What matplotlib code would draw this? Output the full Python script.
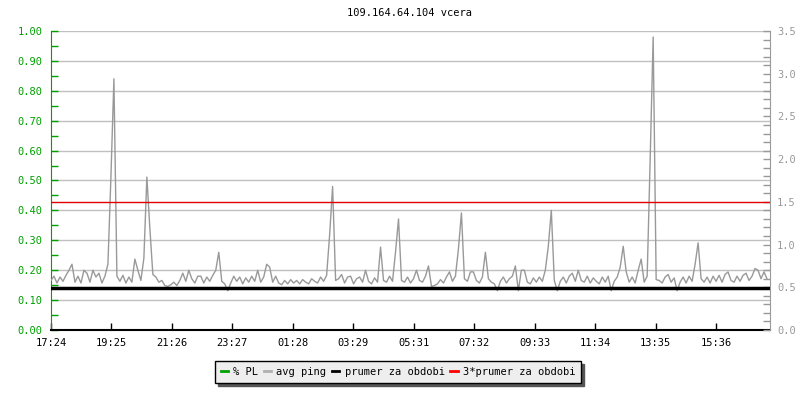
import matplotlib
matplotlib.use("Agg")
import matplotlib.pyplot as plt
from matplotlib.ticker import MultipleLocator, FormatStrFormatter
from matplotlib.lines import Line2D

plt.rcParams['font.family'] = ['DejaVu Sans Mono']

title = "109.164.64.104 vcera"
step_min = 6  # minutes between samples
avg_ping = [
    0.58, 0.63, 0.55, 0.62, 0.57, 0.64, 0.70, 0.77, 0.56, 0.63,
    0.55, 0.70, 0.665, 0.56, 0.70, 0.62, 0.665, 0.55, 0.63, 0.77,
    1.79, 2.94, 0.63, 0.57, 0.64, 0.55, 0.62, 0.56, 0.83, 0.70,
    0.58, 0.84, 1.79, 1.19, 0.65, 0.62, 0.56, 0.58, 0.52, 0.51,
    0.53, 0.56, 0.52, 0.58, 0.665, 0.57, 0.70, 0.60, 0.55, 0.63,
    0.63, 0.55, 0.62, 0.57, 0.64, 0.70, 0.91, 0.57, 0.54, 0.46,
    0.55, 0.63, 0.57, 0.62, 0.54, 0.61, 0.56, 0.63, 0.57, 0.70,
    0.56, 0.62, 0.77, 0.735, 0.56, 0.63, 0.55, 0.53, 0.58, 0.54,
    0.59, 0.55, 0.58, 0.54, 0.59, 0.56, 0.54, 0.60, 0.57, 0.55,
    0.62, 0.57, 0.64, 1.11, 1.68, 0.58, 0.60, 0.65, 0.55, 0.62,
    0.63, 0.54, 0.60, 0.62, 0.56, 0.70, 0.57, 0.54, 0.61, 0.56,
    0.97, 0.58, 0.56, 0.63, 0.57, 0.91, 1.30, 0.58, 0.56, 0.62,
    0.55, 0.60, 0.70, 0.58, 0.56, 0.63, 0.75, 0.51, 0.52, 0.54,
    0.59, 0.55, 0.62, 0.68, 0.57, 0.63, 0.95, 1.37, 0.60, 0.57,
    0.68, 0.68, 0.58, 0.55, 0.62, 0.91, 0.60, 0.56, 0.54, 0.46,
    0.57, 0.62, 0.55, 0.60, 0.63, 0.75, 0.46, 0.70, 0.70, 0.56,
    0.54, 0.61, 0.56, 0.62, 0.57, 0.70, 0.98, 1.40, 0.58, 0.46,
    0.57, 0.62, 0.55, 0.63, 0.665, 0.57, 0.70, 0.58, 0.56, 0.63,
    0.55, 0.61, 0.57, 0.54, 0.62, 0.56, 0.63, 0.46, 0.57, 0.62,
    0.735, 0.98, 0.68, 0.56, 0.62, 0.55, 0.70, 0.83, 0.56, 0.63,
    2.00, 3.43, 0.59, 0.58, 0.55, 0.62, 0.65, 0.56, 0.61, 0.46,
    0.56, 0.62, 0.55, 0.63, 0.57, 0.77, 1.02, 0.60, 0.56, 0.62,
    0.55, 0.63, 0.57, 0.64, 0.56, 0.65, 0.68, 0.58, 0.56, 0.63,
    0.57, 0.64, 0.665, 0.58, 0.63, 0.72, 0.70, 0.60, 0.68, 0.60,
]
prumer = 0.49
prumer3 = 1.50
tick_minutes = [0, 121, 242, 363, 484, 605, 727, 848, 969, 1090, 1211, 1332]
tick_labels = ["17:24", "19:25", "21:26", "23:27", "01:28", "03:29",
               "05:31", "07:32", "09:33", "11:34", "13:35", "15:36"]
span_min = 1440
legend_labels = ["% PL", "avg ping", "prumer za obdobi", "3*prumer za obdobi"]

GREEN = "#00a000"
GRAY = "#999999"
GRID = "#c0c0c0"

fig = plt.figure(figsize=(8, 4), dpi=100)
ax = fig.add_axes([51/800, 70/400, 719/800, 299/400])
ax2 = ax.twinx()

t = [i * step_min for i in range(len(avg_ping))]

ax.set_xlim(0, span_min)
ax.set_ylim(0, 1.0)
ax2.set_ylim(0, 3.5)

ax.yaxis.set_major_locator(MultipleLocator(0.1))
ax.yaxis.set_minor_locator(MultipleLocator(0.05))
ax.yaxis.set_major_formatter(FormatStrFormatter('%.2f'))
ax2.yaxis.set_major_locator(MultipleLocator(0.5))
ax2.yaxis.set_minor_locator(MultipleLocator(0.1))
ax2.yaxis.set_major_formatter(FormatStrFormatter('%.1f'))

ax.grid(axis='y', color=GRID, linewidth=1)
ax.set_axisbelow(True)

ax.set_xticks(tick_minutes)
ax.set_xticklabels(tick_labels)

ax.tick_params(axis='x', direction='in', length=5, width=1, colors='black',
               labelsize=7.5, pad=6)
ax.tick_params(axis='y', which='both', direction='in', length=5, width=1,
               color=GREEN, labelcolor=GREEN, labelsize=7.5, pad=6)
ax2.tick_params(axis='y', which='both', direction='in', length=5, width=1,
                color=GRAY, labelcolor=GRAY, labelsize=7.5, pad=5)

for s in ['top', 'right']:
    ax.spines[s].set_visible(False)
ax.spines['left'].set_color(GREEN)
ax.spines['bottom'].set_color('black')
ax.spines['bottom'].set_linewidth(1.5)
for s in ['top', 'left', 'bottom']:
    ax2.spines[s].set_visible(False)
ax2.spines['right'].set_color(GRAY)

ax2.plot(t, avg_ping, color=GRAY, linewidth=1)
ax2.axhline(prumer, color='black', linewidth=2.5)
ax2.axhline(prumer3, color='#e00000', linewidth=1)

fig.text(410/800, 1 - 13/400, title, ha='center', va='center', fontsize=7.5)

handles = [Line2D([], [], color=GREEN, lw=2),
           Line2D([], [], color='#b0b0b0', lw=2),
           Line2D([], [], color='black', lw=2),
           Line2D([], [], color='red', lw=2)]
leg = fig.legend(handles, legend_labels, loc='center', bbox_to_anchor=(398/800, 1 - 372/400),
                 ncol=4, frameon=True, fancybox=False, shadow={'color': '#555555', 'alpha': 1},
                 fontsize=7.5, handlelength=0.7, handletextpad=0.5, columnspacing=0.55,
                 borderpad=0.55, borderaxespad=0)
leg.get_frame().set_edgecolor('black')
leg.get_frame().set_facecolor('#eeeeee')
leg.get_frame().set_linewidth(1)

fig.savefig("out.png", dpi=100)
